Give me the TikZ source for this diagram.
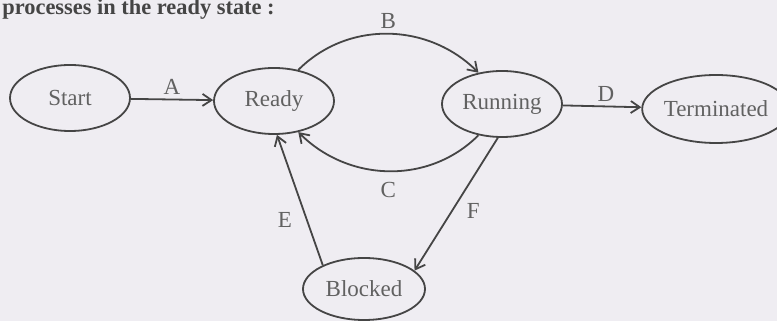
\documentclass[tikz,border=0pt]{standalone}
\usepackage{fontspec}
\setmainfont{Liberation Serif}
\usetikzlibrary{shapes.geometric, arrows.meta, positioning}
\definecolor{paper}{HTML}{EFEDF2}
\definecolor{ink}{HTML}{454545}

\begin{document}
\begin{tikzpicture}[
    x=0.5pt, y=0.5pt,
    % Styles
    state/.style={ellipse, draw=ink, line width=0.9pt, minimum width=60pt, minimum height=33pt, inner sep=0pt, font=\fontsize{11.5}{13}\selectfont, text=ink!85},
    arrow/.style={-{Straight Barb[length=4.5pt, width=6pt]}, draw=ink, line width=0.9pt},
    label/.style={font=\fontsize{11.5}{13}\selectfont, text=ink!85, inner sep=1pt},
]

% === Page ===
\fill[paper] (0,0) rectangle (777,321);
\useasboundingbox (0,0) rectangle (777,321);
\node[anchor=base west, inner sep=0pt, font=\fontsize{11.2}{13}\selectfont\bfseries, text=ink] (heading) at (2,306) {processes in the ready state :};

% === States ===
\node[state] (start) at (70,223) {Start};
\node[state] (ready) at (274,220) {Ready};
\node[state] (running) at (502,217) {Running};
\node[state, minimum width=59pt, minimum height=34pt] (terminated) at (716,212) {Terminated};
\node[state, minimum width=61pt, minimum height=31pt] (blocked) at (364,32) {Blocked};

% === Transitions ===
\draw[arrow] (start) -- node[label, above=1pt] {A} (ready);
\draw[arrow] (ready.52) to[out=45, in=135] node[label, above=1pt] {B} (running.127);
\draw[arrow] (running.233) to[out=225, in=315] node[label, below=4pt] {C} (ready.308);
\draw[arrow] (running) -- node[label, pos=0.55, above=1pt] {D} (terminated);
\draw[arrow] (blocked.150) -- node[label, pos=0.35, left=6pt] {E} (ready.275);
\draw[arrow] (running.263) -- node[label, pos=0.55, right=6pt] {F} (blocked.20);

\end{tikzpicture}
\end{document}
